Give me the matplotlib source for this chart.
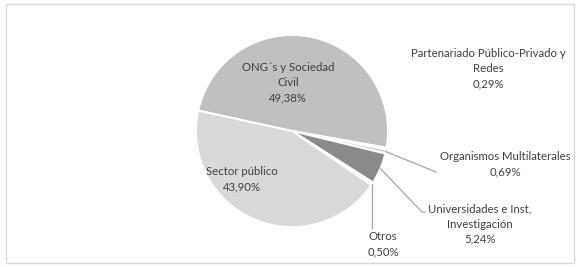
import numpy as np
import matplotlib; matplotlib.use("Agg"); import matplotlib.pyplot as plt
from matplotlib.patches import Rectangle

plt.rcParams.update({"font.family": "Lato", "font.size": 8.2})

labels = ["ONG´s y Sociedad\nCivil", "Partenariado Público-Privado y\nRedes", "Organismos Multilaterales",
          "Universidades e Inst.\nInvestigación", "Otros", "Sector público"]
shares = [49.38, 0.29, 0.69, 5.24, 0.50, 43.90]
colors = ["#c0c0c0", "#e6e6e6", "#d4d4d4", "#8a8a8a", "#efefef", "#d9d9d9"]
explode = [0, 0, 0, 0, 0, 0.07]

W, H = 580, 267
CX, CY, R = 292, 131, 96
TXT = "#404040"

def P(x, y):  # pixel (top-left origin) -> data
    return x, H - y

fig = plt.figure(figsize=(W / 100, H / 100), dpi=100)
ax = fig.add_axes([0, 0, 1, 1])
ax.set_xlim(0, W); ax.set_ylim(0, H); ax.axis("off")

wedges, _ = ax.pie(shares, colors=colors, explode=explode, startangle=167.7, counterclock=False,
                   center=P(CX, CY), radius=R, wedgeprops=dict(edgecolor="white", linewidth=1.4))
ax.set_xlim(0, W); ax.set_ylim(0, H); ax.set_aspect("equal")

def edge_pt(w):
    a = np.deg2rad((w.theta1 + w.theta2) / 2)
    cx, cy = w.center
    return cx + w.r * np.cos(a), cy + w.r * np.sin(a)

# in-slice labels
txt = lambda s, v: f"{s}\n{v:.2f}%".replace(".", ",")
ax.text(*P(288, 83), txt(labels[0], shares[0]), ha="center", va="center", color=TXT, linespacing=1.45)
ax.text(*P(242, 179), txt(labels[5], shares[5]), ha="center", va="center", color=TXT, linespacing=1.45)

# outside labels with leaders
ax.text(*P(488, 69), txt(labels[1], shares[1]), ha="center", va="center", color=TXT, linespacing=1.45)
ax.text(*P(505, 164), txt(labels[2], shares[2]), ha="center", va="center", color=TXT, linespacing=1.45)
ax.text(*P(480, 224), txt(labels[3], shares[3]), ha="center", va="center", color=TXT, linespacing=1.45)
ax.text(*P(383, 244), txt(labels[4], shares[4]), ha="center", va="center", color=TXT, linespacing=1.45)

lc = "#a6a6a6"
x0, y0 = edge_pt(wedges[2]); x1, y1 = P(436, 172)
ax.plot([x0, x1], [y0, y1], color=lc, lw=0.9)
x0, y0 = edge_pt(wedges[3]); x1, y1 = P(422, 212)
ax.plot([x0, x1, x1 + 3], [y0, y1, y1], color=lc, lw=0.9)
x0, y0 = edge_pt(wedges[4]); x1, y1 = P(x0, 228)
ax.plot([x0, x0], [y0, y1], color=lc, lw=0.9)

# chart border
fig.add_artist(Rectangle((6 / W, 4 / H), 568 / W, 259 / H, transform=fig.transFigure,
                         fill=False, edgecolor="#d9d9d9", lw=1))
fig.savefig("out.png", dpi=100, facecolor="white")
